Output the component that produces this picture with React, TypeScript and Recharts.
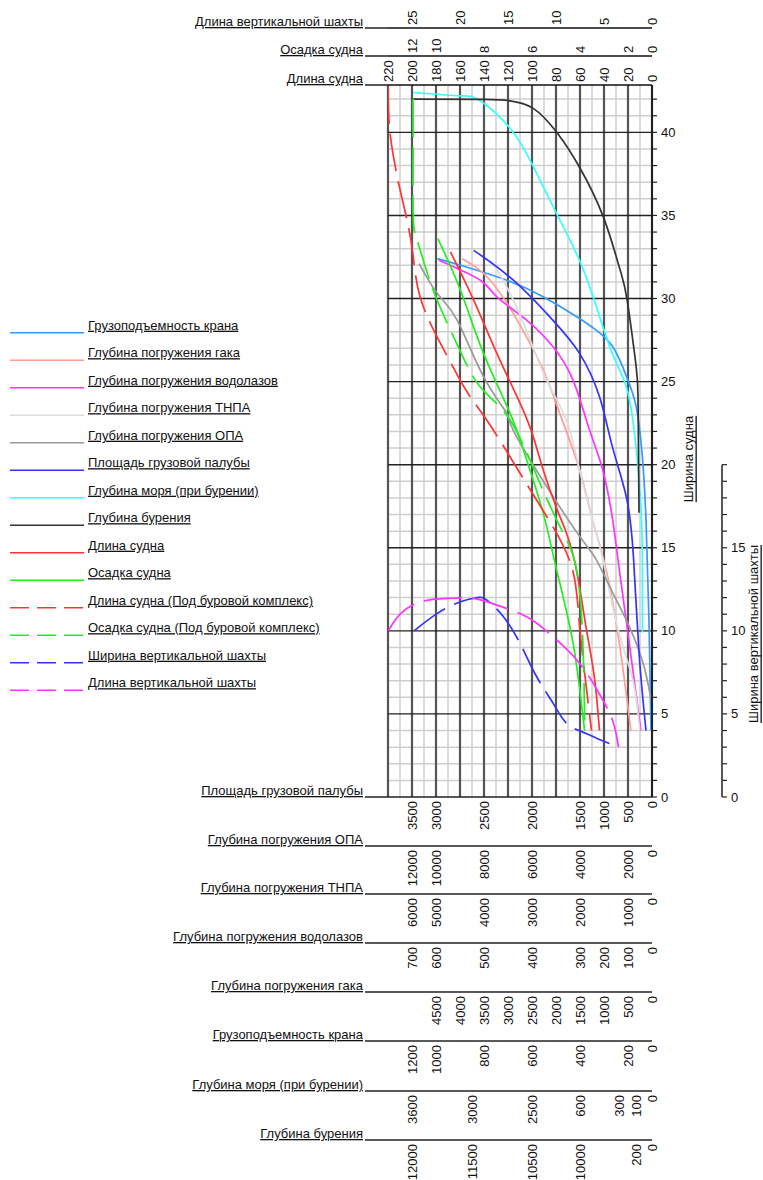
import React from 'react';
import { ComposedChart, Line, XAxis, YAxis, ReferenceLine, Label } from 'recharts';

const FONT = '"Liberation Sans", Arial, Helvetica, sans-serif';

const W = 763;
const H = 1180;
const PLOT_TOP = 85;
const PLOT_BOTTOM = 797;
const Y_MAX = 42.85;
const UNIT = (PLOT_BOTTOM - PLOT_TOP) / Y_MAX;

// --- axis tick values (positions are in "Длина судна" units) ---
const lenTicks = [220, 200, 180, 160, 140, 120, 100, 80, 60, 40, 20, 0];
const draftLabels = [12, 10, 8, 6, 4, 2, 0];
const draftAt = [200, 180, 140, 100, 60, 20, 0];
const shaftLenLabels = [25, 20, 15, 10, 5, 0];
const shaftLenAt = [200, 160, 120, 80, 40, 0];

const deckLabels = [3500, 3000, 2500, 2000, 1500, 1000, 500, 0];
const deckAt = [200, 180, 140, 100, 60, 40, 20, 0];
const opaLabels = [12000, 10000, 8000, 6000, 4000, 2000, 0];
const opaAt = [200, 180, 140, 100, 60, 20, 0];
const rovLabels = [6000, 5000, 4000, 3000, 2000, 1000, 0];
const rovAt = [200, 180, 140, 100, 60, 20, 0];
const diverLabels = [700, 600, 500, 400, 300, 200, 100, 0];
const diverAt = [200, 180, 140, 100, 60, 40, 20, 0];
const hookLabels = [4500, 4000, 3500, 3000, 2500, 2000, 1500, 1000, 500, 0];
const hookAt = [180, 160, 140, 120, 100, 80, 60, 40, 20, 0];
const craneLabels = [1200, 1000, 800, 600, 400, 200, 0];
const craneAt = [200, 180, 140, 100, 60, 20, 0];
const seaLabels = [3600, 3000, 2500, 600, 300, 100, 0];
const seaAt = [200, 150, 100, 60, 27, 13, 0];
const drillLabels = [12000, 11500, 10500, 10000, 200, 0];
const drillAt = [200, 150, 100, 60, 13, 0];

const widthTicks = Array.from({ length: 43 }, (_, i) => i);
const shaftWTicks = Array.from({ length: 21 }, (_, i) => i);

// --- curves: [Длина судна, Ширина судна] ---
const crane: [number, number][] = [
  [178.9, 32.4], [159.6, 32.0], [121.0, 31.1], [90.7, 30.1], [62.7, 28.9], [49.4, 28.25],
  [32.7, 27.1], [20.2, 25.1], [13.2, 23.5], [8.3, 20.7], [5.0, 16.7], [2.5, 10.6], [0.8, 4.0],
];
const hook: [number, number][] = [
  [158.2, 32.4], [134.8, 31.1], [110, 28.4], [90.7, 25.7], [76.9, 23.1], [60.4, 19.7],
  [49.6, 16.7], [38.3, 13.7], [27.3, 9.3], [17.6, 4.0],
];
const divers: [number, number][] = [
  [177.6, 32.3], [143.1, 31.1], [129.3, 30.1], [104.5, 28.7], [82.5, 27.1], [65.9, 25.1],
  [52.1, 22.1], [41.1, 19.7], [32.8, 16.7], [27.3, 13.7], [19.0, 9.3], [9.3, 4.0],
];
const rov: [number, number][] = [
  [134.8, 32.3], [124.1, 31.1], [107, 28.5], [87.9, 25.1], [71.4, 22.7], [60.4, 19.7],
  [49.6, 16.7], [40, 14.0], [28, 10.0], [15.8, 7.0], [10.2, 4.0],
];
const opa: [number, number][] = [
  [194.1, 32.1], [178.9, 30.3], [162.4, 28.7], [140.4, 25.3], [121, 23.1], [115.8, 22.1],
  [87.9, 18.7], [60.4, 15.7], [46.6, 14.3], [32.8, 12.3], [20.4, 10.5], [8.0, 8.2], [1.1, 6.0],
];
const deck: [number, number][] = [
  [148.6, 32.9], [115.5, 31.1], [82.7, 28.7], [60.4, 26.7], [43.8, 24.1], [33.1, 21.1],
  [21.5, 18.1], [15.5, 14.5], [10.8, 8.7], [5.0, 4.0],
];
const sea: [number, number][] = [
  [198.9, 42.4], [159.6, 42.2], [143.1, 41.9], [118.3, 40.25], [99.3, 38.0], [79.4, 35.1],
  [60.4, 32.3], [46.3, 29.5], [33.1, 26.7], [21.5, 24.7], [14.9, 22.1], [10.8, 19.1],
  [8.3, 15.6], [8.0, 9.9],
];
const drill: [number, number][] = [
  [199.0, 42.0], [140, 41.98], [118.3, 41.9], [99.3, 41.46], [79.4, 40.0], [60.4, 37.9],
  [40.5, 34.9], [27.3, 31.9], [20.7, 29.9], [13.2, 25.9], [11.6, 23.7], [10.8, 17.1],
];
const shipLen: [number, number][] = [
  [167.9, 32.8], [148.6, 29.9], [129.3, 26.7], [110, 23.7], [99, 21.7], [90.7, 19.7],
  [79.6, 17.4], [71.4, 15.9], [63.1, 13.7], [54.9, 10.2], [48, 7.2], [43.8, 4.0],
];
const shipDraft: [number, number][] = [
  [178.4, 33.6], [159.6, 30.5], [140.4, 26.7], [118.3, 23.1], [104.5, 20.3], [90.7, 17.1],
  [79.6, 13.7], [65.9, 9.3], [56.2, 4.0],
];
const rigLen: [number, number][] = [
  [220, 42.8], [219.5, 41.2], [217.5, 39.5], [211.6, 37.1], [204.1, 34.7], [199.1, 32.6],
  [193.3, 30.1], [179.2, 27.7], [166.7, 26.0], [153.4, 24.3], [135.1, 22.4], [110.1, 19.5],
  [87.9, 16.9], [67.1, 13.9], [60.2, 10.2], [50.4, 4.0],
];
const rigDraft: [number, number][] = [
  [199.2, 42.0], [199.1, 38.5], [198.9, 34.75], [194.8, 33.3], [182.3, 30.5], [162.8, 27.3],
  [143.4, 24.7], [118.4, 22.7], [93.5, 18.9], [74.1, 15.9], [62.9, 13.7], [57.7, 9.45], [56.0, 4.0],
];
const shaftW: [number, number][] = [
  [198.3, 10.0], [178.9, 11.05], [159.6, 11.75], [145.8, 12.0], [137.5, 11.85], [123.8, 10.85],
  [110, 9.25], [96.2, 7.25], [82.5, 5.65], [71.4, 4.45], [59, 3.95], [46.6, 3.55], [27.9, 3.0],
];
const shaftLen: [number, number][] = [
  [219.8, 10.0], [209.3, 11.05], [192.7, 11.75], [170.6, 11.95], [148.6, 11.95], [129.3, 11.55],
  [104.5, 10.85], [82.5, 9.65], [60.4, 8.05], [43.8, 6.2], [32.8, 4.6], [27.9, 3.0],
];

const series = [
  { name: 'Грузоподъемность крана', color: '#3399ff', pts: crane, dashed: false },
  { name: 'Глубина погружения гака', color: '#ff9c94', pts: hook, dashed: false },
  { name: 'Глубина погружения водолазов', color: '#ff33ff', pts: divers, dashed: false },
  { name: 'Глубина погружения ТНПА', color: '#dddddd', pts: rov, dashed: false },
  { name: 'Глубина погружения ОПА', color: '#999999', pts: opa, dashed: false },
  { name: 'Площадь грузовой палубы', color: '#3333ff', pts: deck, dashed: false },
  { name: 'Глубина моря (при бурении)', color: '#33ffff', pts: sea, dashed: false },
  { name: 'Глубина бурения', color: '#333333', pts: drill, dashed: false },
  { name: 'Длина судна', color: '#ff3333', pts: shipLen, dashed: false },
  { name: 'Осадка судна', color: '#22ee22', pts: shipDraft, dashed: false },
  { name: 'Длина судна (Под буровой комплекс)', color: '#ff3333', pts: rigLen, dashed: true },
  { name: 'Осадка судна (Под буровой комплекс)', color: '#22ee22', pts: rigDraft, dashed: true },
  { name: 'Ширина вертикальной шахты', color: '#3333ff', pts: shaftW, dashed: true },
  { name: 'Длина вертикальной шахты', color: '#ff33ff', pts: shaftLen, dashed: true },
];

// axis ids sort alphabetically when recharts stacks them, so they carry an order prefix
const LEN = 't1len';
const topAxes = [
  { id: LEN, title: 'Длина судна', labels: lenTicks, at: lenTicks, height: 29 },
  { id: 't2draft', title: 'Осадка судна', labels: draftLabels, at: draftAt, height: 28 },
  { id: 't3shaft', title: 'Длина вертикальной шахты', labels: shaftLenLabels, at: shaftLenAt, height: 28 },
];

const bottomAxes = [
  { id: 'b1deck', title: 'Площадь грузовой палубы', labels: deckLabels, at: deckAt, height: 49 },
  { id: 'b2opa', title: 'Глубина погружения ОПА', labels: opaLabels, at: opaAt, height: 48 },
  { id: 'b3rov', title: 'Глубина погружения ТНПА', labels: rovLabels, at: rovAt, height: 49 },
  { id: 'b4diver', title: 'Глубина погружения водолазов', labels: diverLabels, at: diverAt, height: 49 },
  { id: 'b5hook', title: 'Глубина погружения гака', labels: hookLabels, at: hookAt, height: 49 },
  { id: 'b6crane', title: 'Грузоподъемность крана', labels: craneLabels, at: craneAt, height: 50 },
  { id: 'b7sea', title: 'Глубина моря (при бурении)', labels: seaLabels, at: seaAt, height: 49 },
  { id: 'b8drill', title: 'Глубина бурения', labels: drillLabels, at: drillAt, height: 40 },
];

const minorX = Array.from({ length: 11 }, (_, i) => 10 + i * 20);
const majorX = lenTicks;
const minorY = widthTicks.filter((v) => v % 5 !== 0 && v > 0);
const majorY = [5, 10, 15, 20, 25, 30, 35, 40];

const topTick = (labels: number[], at: number[]) => (p: any) => {
  const { x, y, payload } = p;
  const i = at.indexOf(payload.value);
  const ty = y - 3;
  return (
    <text x={x} y={ty} transform={`rotate(-90 ${x} ${ty})`} textAnchor="start"
      dominantBaseline="central" fontSize={13} fontFamily={FONT} fill="#111">
      {labels[i]}
    </text>
  );
};

const bottomTick = (labels: number[], at: number[]) => (p: any) => {
  const { x, y, payload } = p;
  const i = at.indexOf(payload.value);
  const ty = y + 4;
  return (
    <text x={x} y={ty} transform={`rotate(-90 ${x} ${ty})`} textAnchor="end"
      dominantBaseline="central" fontSize={13} fontFamily={FONT} fill="#111">
      {labels[i]}
    </text>
  );
};

const axisTitle = (text: string, side: 'top' | 'bottom') => (props: any) => {
  const vb = props.viewBox || {};
  const ly = side === 'top' ? vb.y + vb.height : vb.y;
  return (
    <g>
      <line x1={vb.x - 23} x2={vb.x} y1={ly} y2={ly} stroke="#222" strokeWidth={1.5} />
      <text x={vb.x - 25} y={ly - 2} textAnchor="end" fontSize={13} fontFamily={FONT}
        fill="#111" textDecoration="underline">
        {text}
      </text>
    </g>
  );
};

const widthTick = (p: any) => {
  const { x, y, payload } = p;
  const v = payload.value;
  return (
    <g>
      <line x1={x} x2={x + 5} y1={y} y2={y} stroke="#222" strokeWidth={1.2} />
      {v % 5 === 0 && (
        <text x={x + 9} y={y} dominantBaseline="central" fontSize={13} fontFamily={FONT} fill="#111">
          {v}
        </text>
      )}
    </g>
  );
};

const shaftTick = (p: any) => {
  const { x, y, payload } = p;
  const v = payload.value;
  return (
    <g>
      <line x1={x} x2={x + 5} y1={y} y2={y} stroke="#222" strokeWidth={1.2} />
      {v > 0 && <line x1={x} x2={x} y1={y} y2={y + UNIT} stroke="#222" strokeWidth={1.5} />}
      {v % 5 === 0 && v < 20 && (
        <text x={x + 9} y={y} dominantBaseline="central" fontSize={13} fontFamily={FONT} fill="#111">
          {v}
        </text>
      )}
    </g>
  );
};

const sideTitle = (text: string, dx: number, dy: number) => (props: any) => {
  const vb = props.viewBox || {};
  const cx = vb.x + dx;
  const cy = vb.y + vb.height / 2 + dy;
  return (
    <text x={cx} y={cy} transform={`rotate(-90 ${cx} ${cy})`} textAnchor="middle"
      dominantBaseline="central" fontSize={13} fontFamily={FONT} fill="#111" textDecoration="underline">
      {text}
    </text>
  );
};

function LegendBox() {
  return (
    <svg width={360} height={H} style={{ position: 'absolute', left: 0, top: 0, pointerEvents: 'none' }}>
      {series.map((s, i) => {
        const y = 332.7 + i * 27.5;
        return (
          <g key={s.name}>
            <line x1={10} x2={84} y1={y} y2={y} stroke={s.color} strokeWidth={1.6}
              strokeDasharray={s.dashed ? '19 8' : undefined} />
            <text x={88} y={y - 3} fontSize={13} fontFamily={FONT} fill="#111" textDecoration="underline">
              {s.name}
            </text>
          </g>
        );
      })}
    </svg>
  );
}

export default function App() {
  return (
    <div style={{ position: 'absolute', left: 0, top: 0, width: W, height: H, background: '#fff' }}>
      <ComposedChart width={W} height={H} margin={{ top: 0, right: 0, bottom: 0, left: 388 }}>
        {topAxes.map((a) => (
          <XAxis key={a.id} xAxisId={a.id} orientation="top" type="number" allowDataOverflow
            dataKey="x" domain={[0, 220]} reversed ticks={a.at} interval={0} height={a.height}
            tickSize={0} tickLine={false} tickMargin={0} axisLine={{ stroke: '#111', strokeWidth: 1.5 }}
            tick={topTick(a.labels, a.at)} label={<Label content={axisTitle(a.title, 'top')} />} />
        ))}
        {bottomAxes.map((a) => (
          <XAxis key={a.id} xAxisId={a.id} orientation="bottom" type="number" allowDataOverflow
            dataKey="x" domain={[0, 220]} reversed ticks={a.at} interval={0} height={a.height}
            tickSize={0} tickLine={false} tickMargin={0} axisLine={{ stroke: '#222', strokeWidth: 1.5 }}
            tick={bottomTick(a.labels, a.at)} label={<Label content={axisTitle(a.title, 'bottom')} />} />
        ))}
        <YAxis yAxisId="y1w" orientation="right" type="number" domain={[0, Y_MAX]} ticks={widthTicks}
          allowDataOverflow interval={0} width={70} tickSize={0} tickLine={false} tickMargin={0}
          axisLine={{ stroke: '#111', strokeWidth: 1.5 }} tick={widthTick}
          label={<Label content={sideTitle('Ширина судна', 36, 18)} />} />
        <YAxis yAxisId="y2shaft" orientation="right" type="number" domain={[0, Y_MAX]} ticks={shaftWTicks}
          allowDataOverflow interval={0} width={41} tickSize={0} tickLine={false} tickMargin={0}
          axisLine={false} tick={shaftTick}
          label={<Label content={sideTitle('Ширина вертикальной шахты', 31, 193)} />} />

        {minorX.map((v) => (
          <ReferenceLine key={`mx${v}`} xAxisId={LEN} yAxisId="y1w" x={v} stroke="#cfcfcf" strokeWidth={1.5} />
        ))}
        {minorY.map((v) => (
          <ReferenceLine key={`my${v}`} xAxisId={LEN} yAxisId="y1w" y={v} stroke="#cfcfcf" strokeWidth={1.5} />
        ))}
        {majorX.map((v) => (
          <ReferenceLine key={`MX${v}`} xAxisId={LEN} yAxisId="y1w" x={v} stroke="#555" strokeWidth={2.2} />
        ))}
        {majorY.map((v) => (
          <ReferenceLine key={`MY${v}`} xAxisId={LEN} yAxisId="y1w" y={v} stroke="#222" strokeWidth={1.4} />
        ))}

        {series.map((s) => (
          <Line key={s.name} xAxisId={LEN} yAxisId="y1w" type="natural" name={s.name}
            data={s.pts.map(([x, y]) => ({ x, y }))} dataKey="y" stroke={s.color} strokeWidth={1.7}
            strokeDasharray={s.dashed ? '38 10' : undefined} dot={false} activeDot={false}
            isAnimationActive={false} />
        ))}
      </ComposedChart>
      <LegendBox />
    </div>
  );
}
